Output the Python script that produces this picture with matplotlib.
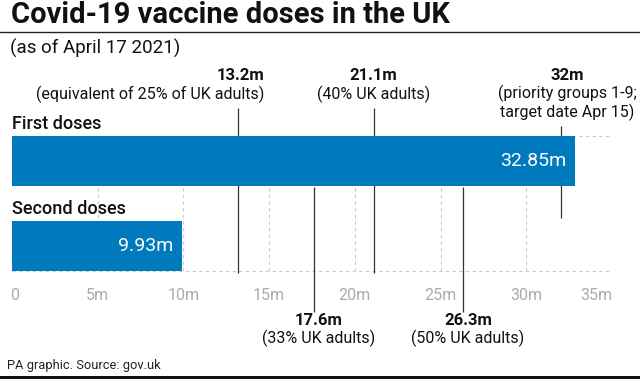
import matplotlib
matplotlib.use('Agg')
import matplotlib.pyplot as plt

# data
categories = ['Second doses', 'First doses']
doses = [9.93, 32.85]
bar_labels = ['9.93m', '32.85m']
ticks = [0, 5, 10, 15, 20, 25, 30, 35]
tick_labels = ['0', '5m', '10m', '15m', '20m', '25m', '30m', '35m']

# reference markers above and below the bars
marks_top = [13.2, 21.1, 32]
marks_top_head = ['13.2m', '21.1m', '32m']
marks_top_note = ['(equivalent of 25% of UK adults)', '(40% UK adults)',
                  '(priority groups 1-9;\ntarget date Apr 15)']
marks_bottom = [17.6, 26.3]
marks_bottom_head = ['17.6m', '26.3m']
marks_bottom_note = ['(33% UK adults)', '(50% UK adults)']

plt.rcParams['font.family'] = ['Roboto', 'DejaVu Sans']
W, H = 640, 379
fig = plt.figure(figsize=(W / 100, H / 100), dpi=100)

# axes placed in pixel units: x 0..35 -> 12..612, bar area 136..271
ax = fig.add_axes([12 / W, 1 - 271 / H, 600 / W, 135 / H])
ax.set_xlim(0, 35)
ax.set_ylim(-0.295, 1.295)
for s in ax.spines.values():
    s.set_visible(False)
ax.set_yticks([])
ax.set_xticks([])

blue = '#0079bd'
grid_c = '#c8c8c8'

def py(p):
    # pixel row -> data y
    return 1.295 - (p - 136) / 85.0

# dashed grid
for t in ticks[1:]:
    ax.vlines(t, -0.295, 1.295, colors=grid_c, linestyles=(0, (3, 3)), lw=0.8, zorder=0)
ax.hlines([-0.295, 1.295], 0, 35, colors=grid_c, linestyles=(0, (3, 3)), lw=0.8, zorder=0, clip_on=False)

# reference lines
ax.vlines(marks_top[:2], py(273), py(108), colors='#333333', lw=0.9, zorder=1, clip_on=False)
ax.vlines(marks_top[2], py(218), py(126), colors='#333333', lw=0.9, zorder=1, clip_on=False)
ax.vlines(marks_bottom, py(312), py(187), colors='#333333', lw=0.9, zorder=1, clip_on=False)

# bars
ypos = list(range(len(categories)))
ax.barh(ypos, doses, height=0.59, color=blue, zorder=2)
for y, v, lab, cat in zip(ypos, doses, bar_labels, categories):
    ax.text(v - 0.5, y, lab, ha='right', va='center', color='white', fontsize=14, zorder=3)
    ax.text(0, y + 0.295 + 0.03, cat, ha='left', va='bottom', color='#111111',
            fontsize=13, fontweight='medium', clip_on=False)

# tick labels
for t, lab in zip(ticks, tick_labels):
    ha = 'left' if t == 0 else ('right' if t == 35 else 'center')
    xx = t - 0.1 if t == 0 else (t + 0.05 if t == 35 else t)
    ax.text(xx, py(296), lab, ha=ha, va='center', color='#aaaaaa', fontsize=11.5)

# annotations
fs = 11.5
ax.text(marks_top[0] + 1.5, py(75), marks_top_head[0], ha='right', va='center',
        fontsize=12, fontweight='bold', color='#111111')
ax.text(marks_top[0] + 1.5, py(94), marks_top_note[0], ha='right', va='center',
        fontsize=fs, color='#111111')
ax.text(marks_top[1], py(75), marks_top_head[1], ha='center', va='center',
        fontsize=12, fontweight='bold', color='#111111')
ax.text(marks_top[1], py(94), marks_top_note[1], ha='center', va='center',
        fontsize=fs, color='#111111')
ax.text(marks_top[2] + 0.4, py(75), marks_top_head[2], ha='center', va='center',
        fontsize=12, fontweight='bold', color='#111111')
ax.text(marks_top[2] + 0.4, py(103), marks_top_note[2], ha='center', va='center',
        fontsize=fs, color='#111111', linespacing=1.1)
for x, h, n in zip(marks_bottom, marks_bottom_head, marks_bottom_note):
    ax.text(x + 0.3, py(321), h, ha='center', va='center', fontsize=12,
            fontweight='bold', color='#111111')
    ax.text(x + 0.3, py(339), n, ha='center', va='center', fontsize=fs, color='#111111')

# title, rule, subtitle, footer
fig.text(11 / W, 1 - 15 / H, 'Covid-19 vaccine doses in the UK', ha='left', va='center',
         fontsize=21, fontweight='bold', color='#111111')
fig.add_artist(plt.Line2D([0, 1], [1 - 32 / H, 1 - 32 / H], color='#222222', lw=1.0))
fig.text(10 / W, 1 - 48 / H, '(as of April 17 2021)', ha='left', va='center',
         fontsize=13.5, color='#111111')
fig.text(7 / W, 1 - 365 / H, 'PA graphic. Source: gov.uk', ha='left', va='center',
         fontsize=9.3, color='#222222')
fig.add_artist(plt.Rectangle((0, 0), 1, 3 / H, color='#111111', lw=0))

fig.savefig('out.png', dpi=100)
